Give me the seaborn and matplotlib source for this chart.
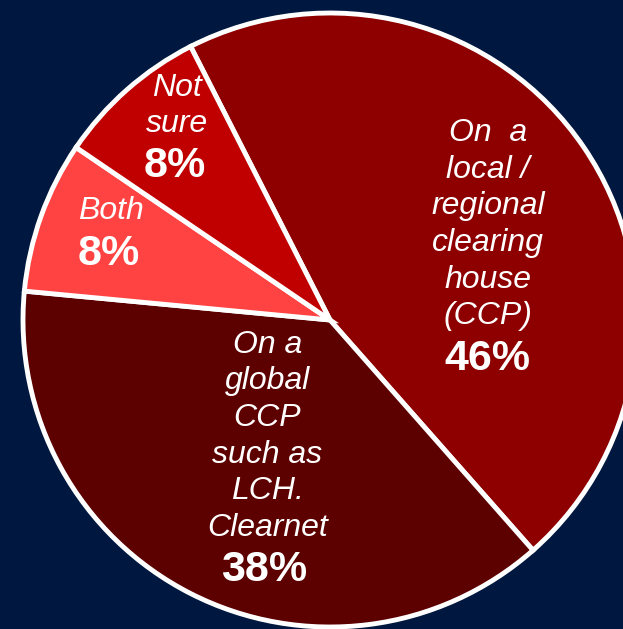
import matplotlib
matplotlib.use("Agg")
import matplotlib.pyplot as plt
import seaborn as sns

# Survey answers: where would you clear?
categories = [
    "On  a\nlocal /\nregional\nclearing\nhouse\n(CCP)",
    "On a\nglobal\nCCP\nsuch as\nLCH.\nClearnet",
    "Both",
    "Not\nsure",
]
shares = [46, 38, 8, 8]
pct_labels = ["46%", "38%", "8%", "8%"]

colors = ["#8E0000", "#5C0000", "#FF4343", "#C00000"]
background = "#00173F"

sns.set_theme(style="white")
plt.rcParams["font.family"] = ["Liberation Sans", "DejaVu Sans"]

fig = plt.figure(figsize=(6.23, 6.29), dpi=100, facecolor=background)
ax = fig.add_axes([0, 0, 1, 1])
ax.set_facecolor(background)

wedges, _ = ax.pie(
    shares,
    colors=colors,
    startangle=117,
    counterclock=False,
    radius=1.0,
    wedgeprops=dict(edgecolor="white", linewidth=3.5),
)

# name and percentage positions inside each wedge (pie units)
name_pos = [(0.515, 0.311), (-0.204, -0.379), (-0.713, 0.355), (-0.498, 0.697)]
pct_pos = [(0.513, -0.127), (-0.215, -0.813), (-0.721, 0.215), (-0.506, 0.502)]

for name, pct, (nx, ny), (px, py) in zip(categories, pct_labels, name_pos, pct_pos):
    ax.text(nx, ny, name, ha="center", va="center", color="white",
            fontsize=23, fontstyle="italic", linespacing=1.29)
    ax.text(px, py, pct, ha="center", va="center", color="white",
            fontsize=31, fontweight="bold")

ax.set_xlim(-330 / 307, 293 / 307)
ax.set_ylim(-309 / 307, 320 / 307)
ax.set_aspect("auto")
ax.axis("off")

fig.savefig("out.png", dpi=100, facecolor=background)
